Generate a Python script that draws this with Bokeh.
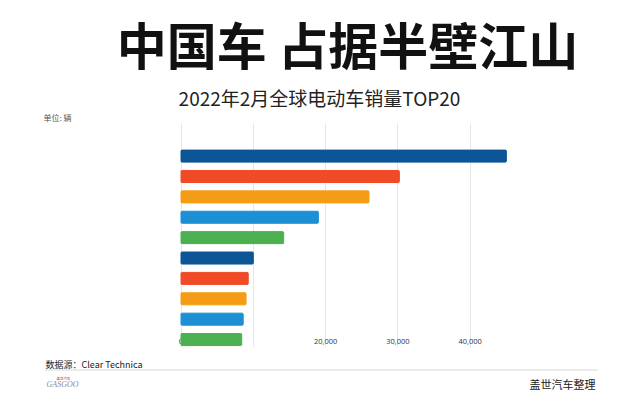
from bokeh.plotting import figure
from bokeh.models import Range1d, FixedTicker, NumeralTickFormatter, Label, ColumnDataSource
from bokeh.layouts import column
from bokeh.embed import file_html
from bokeh.resources import INLINE

# ---- data ----
ranks = [1, 2, 3, 4, 5, 6, 7, 8, 9, 10]
sales = [45000, 30200, 26000, 19000, 14200, 10000, 9300, 9000, 8600, 8400]
palette = ["#0c5596", "#f04a27", "#f59c16", "#1d8fd5", "#4caf50"]
colors = [palette[i % 5] for i in range(len(ranks))]
x_ticks = [0, 10000, 20000, 30000, 40000]

title_text = "中国车 占据半壁江山"
subtitle_text = "2022年2月全球电动车销量TOP20"
unit_text = "单位: 辆"
source_text = "数据源：Clear Technica"
credit_text = "盖世汽车整理"

CJK = "Noto Sans CJK SC"


def blank(h, y0):
    f = figure(width=640, height=h, output_backend="svg", toolbar_location=None,
               x_range=Range1d(0, 640), y_range=Range1d(y0 + h, y0),
               x_axis_location=None, y_axis_location=None,
               min_border=0, min_border_left=0, min_border_right=0,
               min_border_top=0, min_border_bottom=0)
    f.outline_line_color = None
    f.xgrid.visible = False
    f.ygrid.visible = False
    f.background_fill_color = "white"
    f.border_fill_color = "white"
    return f


def lab(f, text, X, Y, size, color="#222222", align="left", bold=False, font=CJK, italic=False):
    style = "bold" if bold else ("italic" if italic else "normal")
    f.add_layout(Label(x=X, y=Y, text=text, text_font_size=size, text_color=color,
                       text_align=align, text_baseline="middle", text_font=font,
                       text_font_style=style))


# ---- top (titles) ----
top = blank(123, 0)
lab(top, title_text, 347, 42, "50px", color="#111111", align="center", bold=True)
lab(top, subtitle_text, 319, 97, "19px", color="#222222", align="center")
lab(top, unit_text, 43, 117, "8px", color="#555555")

# ---- chart ----
PX = 72.3 / 10000.0          # pixels per unit
x0 = -180.5 / PX
p = figure(width=640, height=232, output_backend="svg", toolbar_location=None,
           x_range=Range1d(x0, x0 + 640 / PX), y_range=Range1d(10.39, -0.6),
           y_axis_location=None, min_border_left=0, min_border_right=0,
           min_border_top=0, min_border_bottom=8)
p.outline_line_color = None
p.background_fill_color = "white"
p.border_fill_color = "white"

src = ColumnDataSource(dict(y=ranks, right=sales, color=colors))
r = p.hbar(y="y", left=0, right="right", height=0.59, color="color", source=src,
           border_radius=1)
r.level = "overlay"

p.ygrid.visible = False
p.xgrid.grid_line_color = "#e6e6e6"
p.xgrid.grid_line_width = 1

ax = p.xaxis[0]
ax.ticker = FixedTicker(ticks=x_ticks)
ax.formatter = NumeralTickFormatter(format="0,0")
ax.major_label_overrides = {10000: ""}
ax.axis_line_color = None
ax.major_tick_line_color = None
ax.minor_tick_line_color = None
ax.major_tick_out = 0
ax.major_label_standoff = -9
ax.major_label_text_font_size = "7.5px"
ax.major_label_text_color = "#333333"
ax.major_label_text_font = "Open Sans"

# ---- footer ----
bot = blank(45, 355)
lab(bot, source_text, 45, 364, "9px", color="#222222")
bot.segment(x0=[45], y0=[369.5], x1=[597], y1=[369.5], line_color="#e4e4e4", line_width=1.5)
lab(bot, "盖世汽车", 56, 378, "3.5px", color="#c0392b")
lab(bot, "GASGOO", 46, 384, "8px", color="#8a8a9a", font="Liberation Serif", italic=True)
lab(bot, credit_text, 595, 383, "11px", color="#222222", align="right")

layout = column(top, p, bot, spacing=0)
open("out.html", "w").write(file_html(layout, INLINE))
